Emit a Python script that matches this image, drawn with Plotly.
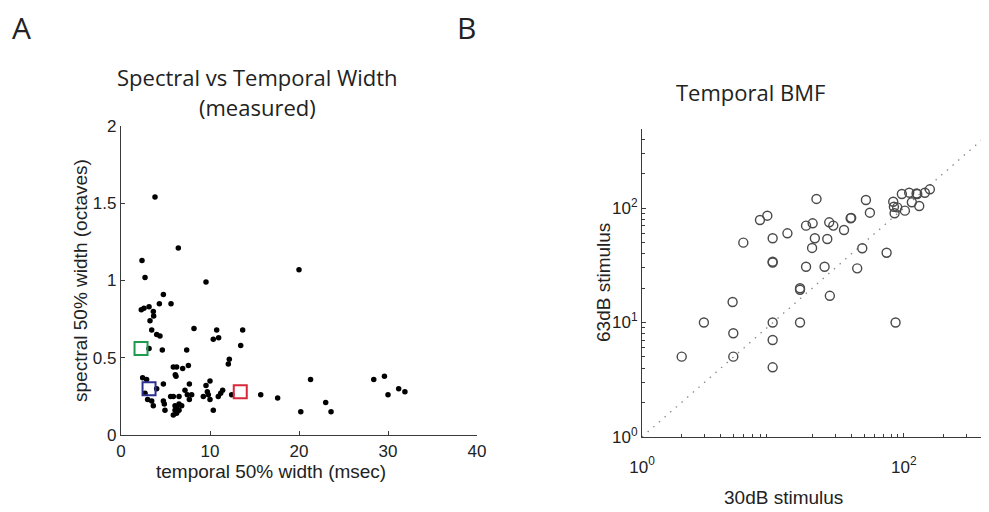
import plotly.graph_objects as go

# ---------------- Panel A data ----------------
a_x = [3.82, 6.44, 2.36, 2.70, 9.55, 4.76, 4.31, 5.62, 2.28, 2.58, 3.15, 3.63, 3.67, 3.26,
       3.45, 4.01, 4.38, 8.20, 10.75, 10.37, 10.97, 13.67, 13.45, 3.15, 4.64, 7.38, 12.17,
       12.06, 5.88, 6.25, 6.93, 7.57, 6.10, 6.18, 2.43, 2.88, 10.0, 7.68, 4.76, 9.55, 4.01,
       7.19, 9.70, 11.42, 7.45, 7.94, 5.58, 5.88, 6.52, 9.25, 9.81, 10.93, 12.43, 15.7, 17.6,
       2.99, 10.0, 3.63, 4.87, 6.07, 6.52, 6.82, 6.25, 4.94, 6.07, 6.52, 10.37, 5.88, 6.25,
       2.70, 3.45, 4.76, 7.68, 11.2, 20.0, 21.3, 20.2, 23.0, 23.6, 28.4, 29.6, 30.0, 31.2, 31.9]
a_y = [1.54, 1.21, 1.13, 1.02, 0.99, 0.91, 0.85, 0.85, 0.81, 0.82, 0.83, 0.80, 0.77, 0.74,
       0.68, 0.65, 0.64, 0.69, 0.68, 0.62, 0.63, 0.68, 0.58, 0.56, 0.55, 0.55, 0.49,
       0.46, 0.44, 0.44, 0.43, 0.45, 0.39, 0.38, 0.37, 0.36, 0.35, 0.33, 0.33, 0.32, 0.30,
       0.29, 0.28, 0.29, 0.26, 0.26, 0.25, 0.25, 0.25, 0.25, 0.26, 0.25, 0.26, 0.26, 0.24,
       0.23, 0.23, 0.19, 0.20, 0.19, 0.20, 0.19, 0.18, 0.16, 0.16, 0.16, 0.16, 0.13, 0.14,
       0.27, 0.22, 0.22, 0.23, 0.27, 1.07, 0.36, 0.15, 0.21, 0.15, 0.36, 0.38, 0.26, 0.30, 0.28]

sq_x = [2.25, 3.15, 13.4]
sq_y = [0.56, 0.30, 0.28]
sq_colors = ["#1f9a4e", "#2e3192", "#d9283a"]

a_xticks = [0, 10, 20, 30, 40]
a_yticks = [0, 0.5, 1, 1.5, 2]
a_yticklabels = ["0", "0.5", "1", "1.5", "2"]

# ---------------- Panel B data ----------------
b_x = [21.5, 7.96, 9.06, 17.9, 20.1, 5.94, 9.95, 12.9, 20.9, 19.9, 9.95, 9.95, 17.9, 16.1,
       16.1, 4.92, 51.3, 55.0, 39.2, 39.6, 26.9, 28.9, 34.9, 26.0, 48.1, 73.8, 24.8, 44.0,
       27.2, 96.5, 109.8, 125.0, 126.5, 144.6, 157.9, 82.9, 83.9, 88.9, 115.0, 131.0, 101.8,
       84.9, 16.1, 86.4, 2.97, 9.95, 4.98, 9.95, 2.01, 4.98, 9.95]
b_y = [120.0, 78.5, 85.7, 70.1, 73.5, 49.8, 54.4, 60.1, 54.4, 44.8, 33.4, 33.9, 30.7, 19.9,
       19.3, 15.1, 117.5, 91.0, 81.3, 82.0, 75.0, 70.2, 64.3, 53.6, 44.5, 40.7, 30.7, 29.7,
       17.1, 132.5, 136.1, 134.0, 132.5, 136.0, 145.6, 113.5, 102.6, 101.3, 112.2, 104.0, 94.8,
       90.0, 10.0, 10.0, 10.0, 10.0, 8.05, 7.03, 5.03, 5.03, 4.06]

diag = [1, 1000]
b_ticks = [1, 10, 100]
b_ticklabels = ["10<sup>0</sup>", "10<sup>1</sup>", "10<sup>2</sup>"]
b_minor = [m * d for d in (1, 10, 100) for m in range(2, 10)]
b_xticks = [1, 100]
b_xticklabels = ["10<sup>0</sup>", "10<sup>2</sup>"]

# the page has an 8px body margin, so the figure is drawn 8px in from the window edge
OFF = 8
W, H = 989 - OFF, 512 - OFF
AX_COLOR = "#3a3a3a"
TICK_FONT = dict(family="Liberation Sans, Arial", size=17, color="#222")

fig = go.Figure()

fig.add_trace(go.Scatter(x=a_x, y=a_y, mode="markers", xaxis="x", yaxis="y",
                         marker=dict(size=5.5, color="black"), showlegend=False,
                         hoverinfo="skip"))
fig.add_trace(go.Scatter(x=sq_x, y=sq_y, mode="markers", xaxis="x", yaxis="y",
                         marker=dict(symbol="square-open", size=13, color=sq_colors,
                                     line=dict(width=2, color=sq_colors)),
                         showlegend=False, hoverinfo="skip"))

fig.add_trace(go.Scatter(x=diag, y=diag, mode="lines", xaxis="x2", yaxis="y2",
                         line=dict(color="#8a8a8a", width=1.3, dash="1.5px,6px"),
                         showlegend=False, hoverinfo="skip"))
fig.add_trace(go.Scatter(x=b_x, y=b_y, mode="markers", xaxis="x2", yaxis="y2",
                         marker=dict(symbol="circle-open", size=9, color="#4a4a4a",
                                     line=dict(width=1.4, color="#4a4a4a")),
                         showlegend=False, hoverinfo="skip"))

def px_x(p):
    return (p - OFF) / W

def px_y(p):
    return (H - (p - OFF)) / H

fig.update_layout(
    width=W, height=H,
    margin=dict(l=0, r=0, t=0, b=0, autoexpand=False),
    paper_bgcolor="white", plot_bgcolor="white",
    xaxis=dict(domain=[px_x(121), px_x(477)], range=[0, 40], tickvals=a_xticks,
               ticks="inside", ticklen=4, tickcolor=AX_COLOR, showline=True,
               linecolor=AX_COLOR, linewidth=1.2, showgrid=False, zeroline=False,
               tickfont=TICK_FONT, anchor="y", fixedrange=True, automargin=False),
    yaxis=dict(domain=[px_y(435), px_y(126)], range=[0, 2], tickvals=a_yticks,
               ticktext=a_yticklabels,
               ticks="inside", ticklen=4, tickcolor=AX_COLOR, showline=True,
               linecolor=AX_COLOR, linewidth=1.2, showgrid=False, zeroline=False,
               tickfont=TICK_FONT, anchor="x", fixedrange=True, automargin=False),
    xaxis2=dict(domain=[px_x(642), 1.0], type="log", range=[0, 2.65],
                tickvals=b_xticks, ticktext=b_xticklabels,
                ticks="inside", ticklen=4, tickcolor=AX_COLOR, showline=True,
                linecolor=AX_COLOR, linewidth=1.2, showgrid=False, zeroline=False,
                tickfont=TICK_FONT, ticklabelstandoff=14, anchor="y2",
                minor=dict(tickvals=b_minor, ticks="inside", ticklen=2.5,
                           tickcolor=AX_COLOR, showgrid=False),
                fixedrange=True, automargin=False),
    yaxis2=dict(domain=[px_y(437), px_y(129)], type="log", range=[0, 2.69],
                tickvals=b_ticks, ticktext=b_ticklabels,
                ticks="inside", ticklen=4, tickcolor=AX_COLOR, showline=True,
                linecolor=AX_COLOR, linewidth=1.2, showgrid=False, zeroline=False,
                tickfont=TICK_FONT, anchor="x2",
                minor=dict(tickvals=b_minor, ticks="inside", ticklen=2.5,
                           tickcolor=AX_COLOR, showgrid=False),
                fixedrange=True, automargin=False),
)

TITLE_FONT = dict(family="Open Sans, Noto Sans", size=22, color="#222")
LABEL_FONT = dict(family="Liberation Sans, Arial", size=19, color="#222")
PANEL_FONT = dict(family="Open Sans, Noto Sans", size=30, color="#222")

annotations = [
    dict(text="A", x=px_x(10), y=px_y(28), xanchor="left", yanchor="middle",
         font=PANEL_FONT),
    dict(text="B", x=px_x(455), y=px_y(28), xanchor="left", yanchor="middle",
         font=PANEL_FONT),
    dict(text="Spectral vs Temporal Width", x=px_x(257), y=px_y(77),
         xanchor="center", yanchor="middle", font=TITLE_FONT),
    dict(text="(measured)", x=px_x(257), y=px_y(107),
         xanchor="center", yanchor="middle", font=TITLE_FONT),
    dict(text="Temporal BMF", x=px_x(750), y=px_y(92),
         xanchor="center", yanchor="middle", font=TITLE_FONT),
    dict(text="spectral 50% width (octaves)", x=px_x(80), y=px_y(281),
         xanchor="center", yanchor="middle", textangle=-90, font=LABEL_FONT),
    dict(text="temporal 50% width (msec)", x=px_x(271), y=px_y(471),
         xanchor="center", yanchor="middle", font=LABEL_FONT),
    dict(text="63dB stimulus", x=px_x(603), y=px_y(283),
         xanchor="center", yanchor="middle", textangle=-90, font=LABEL_FONT),
    dict(text="30dB stimulus", x=px_x(783), y=px_y(497),
         xanchor="center", yanchor="middle", font=LABEL_FONT),
]
for a in annotations:
    a.update(xref="paper", yref="paper", showarrow=False)
fig.update_layout(annotations=annotations)

fig.write_html("out.html")
